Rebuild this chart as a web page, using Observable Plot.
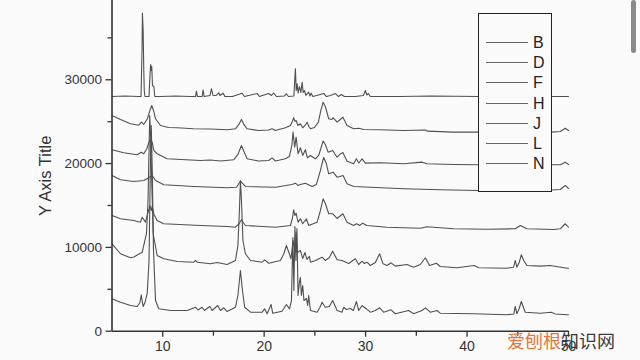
<!DOCTYPE html>
<html><head><meta charset="utf-8">
<script src="https://cdn.jsdelivr.net/npm/d3@7"></script>
<script src="https://cdn.jsdelivr.net/npm/@observablehq/plot@0.6"></script>
<style>
html,body{margin:0;padding:0;background:#fbfbfc;width:640px;height:360px;overflow:hidden;}
#wrap{position:relative;width:640px;height:360px;font-family:"Liberation Sans",Arial,sans-serif;}
#wrap svg{position:absolute;left:0;top:0;}
#legend{position:absolute;left:478px;top:13px;width:74px;height:179px;border:1.5px solid #222;background:#fbfbfc;box-sizing:border-box;}
.item{position:absolute;left:7px;height:20px;width:66px;}
.item .ln{position:absolute;left:0;top:9px;width:42px;height:0;border-top:1px solid #666;}
.item .lb{position:absolute;left:47px;top:0;font-size:16px;line-height:20px;color:#222;}
#wm{position:absolute;left:507px;top:330px;font-family:"Noto Sans CJK SC",sans-serif;font-size:18px;line-height:20px;white-space:nowrap;}
#sb{position:absolute;left:631px;top:0;width:5px;height:53px;background:#8a8a8a;border-radius:3px;}
</style></head><body><div id="wrap"></div>
<script>
const seriesNames = ["B","D","F","H","J","L","N"];
const xTicks = [10,20,30,40,50];
const xMinorTicks = [15,25,35,45];
const yTicks = [0,10000,20000,30000];
const yMinorTicks = [5000,15000,25000,35000];
const yAxisTitle = "Y Axis Title";
const watermarkA = "爱刨根";
const watermarkB = "知识网";

const B = [[5,28000],[6.33,28070],[7.61,28000],[7.86,28000],[7.96,33500],[8.0,37950],[8.07,35880],[8.13,31350],[8.18,28720],[8.25,28000],[8.65,28000],[8.74,30520],[8.81,31830],[8.87,31110],[8.92,31590],[8.99,29320],[9.12,29200],[9.22,28000],[9.78,28000],[11.26,28070],[12.73,28000],[13.23,28000],[13.33,28640],[13.42,28000],[13.89,28000],[13.98,28810],[14.08,28000],[14.66,28130],[14.8,28930],[14.95,28160],[15.1,28130],[15.3,28160],[15.52,28450],[15.64,28130],[15.96,28400],[16.13,28000],[16.87,28000],[17.83,28400],[18.05,28000],[19.31,28370],[19.53,28000],[20.45,28370],[20.71,28130],[20.94,28420],[21.2,28000],[21.99,28070],[22.19,28330],[22.39,28000],[22.93,28070],[23.08,31310],[23.16,28720],[23.25,29520],[23.35,28420],[23.47,29200],[23.62,28480],[23.74,29710],[23.85,28480],[23.97,28720],[24.11,28130],[24.39,28520],[24.51,28070],[24.63,28400],[24.8,28000],[25.87,28370],[26.13,28000],[26.53,28130],[27.02,28370],[27.32,28000],[27.61,28250],[27.91,28000],[28.99,28000],[29.78,28130],[29.98,28720],[30.12,28180],[30.27,28370],[30.47,28000],[33.42,28000],[36.38,28070],[41.11,28000],[45.25,28000],[48.3,28000],[50,28000]];

const D = [[5,25740],[5.84,25260],[6.82,24750],[7.64,24580],[7.91,24940],[8.13,24670],[8.5,25380],[8.74,26340],[8.92,26930],[9.09,26340],[9.29,25350],[9.78,24550],[10.57,24310],[11.42,24270],[13.06,24150],[14.7,24130],[16.35,24030],[17.17,24150],[17.51,24670],[17.76,25260],[18.0,24670],[18.32,24150],[19.43,23950],[20.42,24010],[20.78,24150],[21.11,23950],[22.09,24270],[22.59,24550],[22.78,25030],[22.91,25470],[23.03,25030],[23.15,25140],[23.34,24550],[23.57,24750],[23.8,24270],[24.02,24550],[24.23,24940],[24.41,24420],[24.56,24150],[24.95,24310],[25.34,24910],[25.59,26340],[25.81,27330],[26.03,26810],[26.36,25350],[26.67,25260],[26.79,25470],[27.19,24940],[27.51,25260],[27.76,25540],[28.17,24550],[28.82,24150],[29.32,24220],[29.81,24070],[31.45,24030],[33.75,23950],[35.89,24010],[36.08,23870],[38.67,23750],[41.11,23750],[45.25,23770],[48.3,23750],[49.19,23830],[49.68,24220],[50,23950]];

const F = [[5,21650],[6.16,21290],[7.48,21050],[7.88,21360],[8.13,21170],[8.45,21800],[8.63,22520],[8.79,22960],[8.97,22520],[9.12,21560],[9.45,21170],[10.44,20570],[13.72,20370],[14.7,20430],[15.69,20310],[17.0,20450],[17.41,21090],[17.76,22160],[18.05,21320],[18.32,20570],[19.43,20310],[20.45,20370],[20.78,20690],[21.11,20310],[22.09,20570],[22.49,20850],[22.73,22160],[22.85,23750],[23.01,21960],[23.15,23150],[23.34,21170],[23.57,21890],[23.8,20970],[24.06,21650],[24.26,20690],[24.56,20970],[25.05,20570],[25.37,20970],[25.59,21800],[25.81,22700],[26.03,22280],[26.3,21360],[26.75,21560],[27.19,20760],[27.51,21150],[27.76,21320],[28.17,20290],[28.82,19980],[29.09,20570],[29.33,20070],[29.65,20570],[29.98,20050],[31.45,20100],[33.75,19980],[35.56,20170],[36.05,19980],[38.67,19890],[41.11,19860],[45.25,19840],[48.3,19860],[49.19,19860],[49.68,20170],[50,19890]];

const H = [[5,18580],[5.84,18070],[7.15,17860],[8.13,17980],[8.6,18280],[8.96,18580],[9.29,17980],[10.1,17470],[13.06,17270],[16.35,17110],[17.27,17180],[17.66,17900],[18.15,17270],[21.11,17180],[22.75,17510],[23.08,17660],[23.33,17390],[23.57,17510],[24.06,17660],[24.72,17270],[25.15,17510],[25.49,18940],[25.87,20730],[26.13,20010],[26.36,18780],[26.79,18970],[27.19,18380],[27.78,18580],[28.17,17590],[28.82,17270],[30.47,17180],[33.75,16990],[37.36,16870],[41.11,16790],[48.3,16850],[49.19,16910],[49.68,17390],[50,17030]];

const J = [[5,13810],[5.84,13410],[7.15,13210],[7.81,13010],[7.98,13600],[8.3,13010],[8.55,14160],[8.74,15000],[8.87,14400],[8.97,14880],[9.14,13930],[9.45,13210],[10.1,12820],[13.72,12610],[16.35,12490],[17.17,12410],[17.51,12790],[17.76,13290],[18.0,12850],[18.15,12610],[21.11,12410],[22.59,12610],[22.78,13450],[22.91,14490],[23.03,13810],[23.15,14080],[23.34,13010],[23.57,13410],[23.8,12820],[24.16,13410],[24.39,12610],[25.22,13010],[25.49,14160],[25.81,15800],[26.03,15240],[26.36,14010],[26.77,14010],[27.19,13450],[27.76,14010],[28.17,13010],[28.82,12610],[29.09,12820],[29.41,12610],[29.71,12890],[30.14,12610],[32.11,12410],[35.39,12290],[36.05,12460],[38.67,12220],[41.97,12170],[44.75,12220],[45.25,12610],[45.9,12220],[48.53,12140],[49.19,12220],[49.68,12820],[50,12410]];

const L = [[5,10430],[5.84,9240],[6.82,8760],[7.15,8850],[7.98,9430],[8.4,11660],[8.55,15600],[8.65,21560],[8.72,25740],[8.82,22760],[8.94,16790],[9.06,11660],[9.45,9030],[10.1,8640],[11.42,8320],[13.06,8230],[13.23,8440],[13.43,8230],[14.7,8040],[15.36,8200],[16.35,7960],[17.17,8440],[17.41,10230],[17.56,14400],[17.66,17980],[17.76,15600],[17.91,10820],[18.15,9240],[18.65,8440],[19.8,8230],[20.05,8520],[20.45,8110],[21.6,8440],[21.95,9270],[22.19,10230],[22.44,9390],[22.64,8640],[22.85,10820],[23.01,9630],[23.15,11780],[23.28,9390],[23.57,9630],[23.8,8680],[24.02,9390],[24.21,8560],[24.46,8920],[24.56,8230],[25.05,8440],[25.71,8830],[26.03,8440],[26.43,8800],[26.75,9550],[27.19,8520],[27.68,8440],[28.33,8080],[28.99,8640],[29.32,7960],[29.65,8350],[29.88,8080],[30.14,8230],[30.47,7840],[30.96,8200],[31.38,9240],[31.72,8040],[32.11,7840],[32.51,8160],[32.93,7760],[34.08,7960],[34.73,7640],[35.39,7960],[35.89,8760],[36.31,7840],[36.97,8110],[37.36,7720],[39.01,7570],[40.71,7840],[41.14,7570],[43.94,7520],[44.59,7640],[44.75,8440],[44.91,7640],[45.14,8200],[45.35,9120],[45.59,8440],[45.9,7840],[47.22,7760],[48.2,7840],[49.85,7520],[50,7520]];

const N = [[5,3870],[5.84,3460],[6.82,3070],[7.48,2950],[7.76,3420],[7.88,4340],[8.0,3420],[8.07,2950],[8.25,3420],[8.47,4500],[8.65,8440],[8.79,20370],[8.87,24550],[8.97,19180],[9.09,9630],[9.29,3660],[9.61,2670],[10.76,2470],[12.41,2470],[13.23,2860],[13.47,2530],[13.89,2860],[14.11,2470],[14.64,2950],[14.87,2470],[15.42,3070],[15.69,2470],[16.01,2790],[16.35,2350],[17.17,2860],[17.41,4260],[17.66,7240],[17.86,4860],[18.08,2860],[18.65,2270],[19.8,2270],[20.05,2670],[20.29,2080],[20.68,3190],[20.84,2150],[21.77,2390],[22.19,3190],[22.49,2670],[22.69,3660],[22.83,11180],[22.93,4860],[23.03,12490],[23.13,8440],[23.23,12260],[23.34,4260],[23.47,5810],[23.57,6410],[23.67,4260],[23.8,5450],[23.92,3660],[24.16,3900],[24.29,3070],[24.39,4260],[24.56,2470],[25.22,2270],[25.49,2830],[25.71,3460],[26.03,2860],[26.43,2950],[26.75,3660],[27.19,2470],[27.68,2270],[27.84,2860],[28.1,2590],[28.5,2700],[28.79,2470],[29.09,3540],[29.32,2470],[29.65,3070],[29.81,2890],[30.07,2670],[30.47,2270],[30.96,2470],[31.38,2790],[31.78,2270],[32.51,2550],[32.93,2080],[34.24,2470],[34.73,2080],[35.56,2470],[35.89,2790],[36.38,2270],[37.04,2470],[37.36,2150],[40.65,2080],[43.94,1960],[44.61,2060],[44.75,2950],[44.91,2080],[45.14,2710],[45.35,3540],[45.59,2710],[45.74,2270],[47.22,2150],[48.3,2270],[48.7,2060],[49.85,1960],[50,1960]];

const traces = [B, D, F, H, J, L, N];
const rows = traces.flatMap((s, i) => s.map(([x, y]) => ({series: seriesNames[i], x, y})));

const chart = Plot.plot({
  width: 640, height: 360,
  marginLeft: 111.5, marginRight: 72, marginTop: 0, marginBottom: 29.3,
  style: {background: "transparent", fontFamily: "Liberation Sans, Arial, sans-serif", fontSize: "13px", color: "#333", overflow: "visible"},
  x: {domain: [5, 50]},
  y: {domain: [0, 39460]},
  marks: [
    Plot.axisX(xTicks, {tickSize: 6, tickPadding: 4, fontSize: 14, label: null, stroke: "#333", strokeWidth: 1.3}),
    Plot.axisX(xMinorTicks, {tickSize: 5, tickFormat: () => "", label: null, stroke: "#333", strokeWidth: 1.3}),
    Plot.axisY(yTicks, {tickSize: 6, tickPadding: 4, fontSize: 13.5, tickFormat: "d", label: null, stroke: "#333", strokeWidth: 1.3}),
    Plot.axisY(yMinorTicks, {tickSize: 4, tickFormat: () => "", label: null, stroke: "#333", strokeWidth: 1.3}),
    Plot.line(rows, {x: "x", y: "y", z: "series", stroke: "#505050", strokeWidth: 1.1}),
    Plot.ruleX([5], {stroke: "#333", strokeWidth: 1.6}),
    Plot.ruleY([0], {stroke: "#333", strokeWidth: 1.6}),
    Plot.text([yAxisTitle], {frameAnchor: "left", rotate: -90, textAnchor: "middle", dx: -66, dy: 10, fontSize: 16.5, fill: "#333"})
  ]
});

const wrap = document.getElementById("wrap");
wrap.appendChild(chart);

const legend = d3.select(wrap).append("div").attr("id", "legend");
seriesNames.forEach((name, i) => {
  const it = legend.append("div").attr("class", "item").style("top", (19 + i * 20.2) + "px");
  it.append("div").attr("class", "ln");
  it.append("div").attr("class", "lb").text(name);
});

const wm = d3.select(wrap).append("div").attr("id", "wm");
wm.append("span").style("color", "#e0793c").text(watermarkA);
wm.append("span").style("color", "#3a3a3a").text(watermarkB);

d3.select(wrap).append("div").attr("id", "sb");
</script>
</body></html>
